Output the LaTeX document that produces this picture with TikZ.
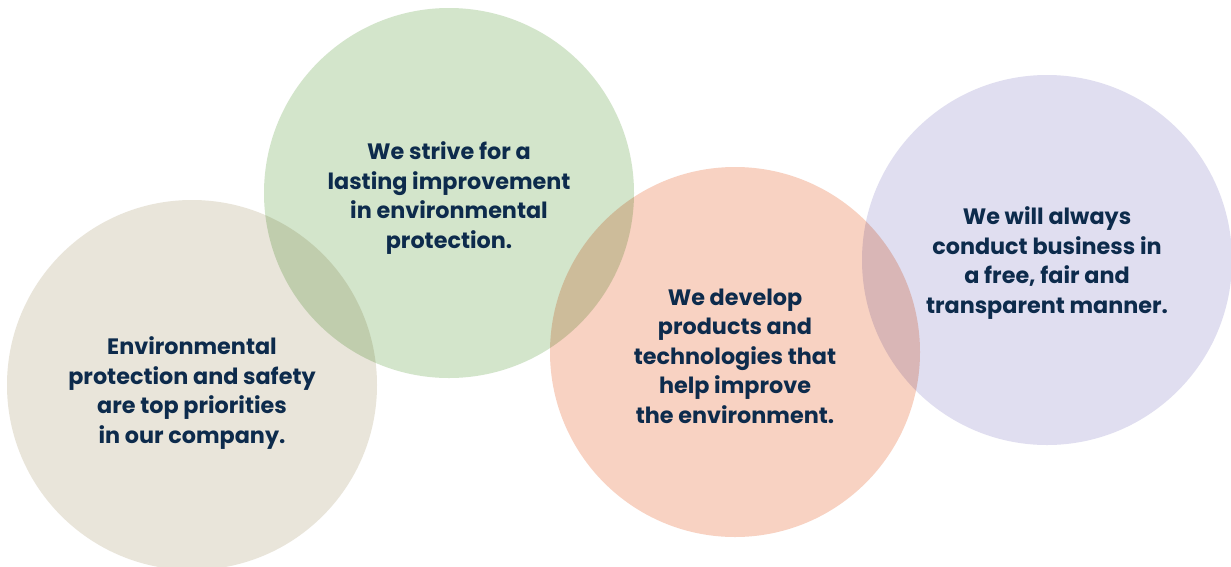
\documentclass[tikz,border=0pt]{standalone}
\usepackage{fontspec}
\setmainfont{Poppins}
\definecolor{cbeige}{HTML}{E9E5DA}
\definecolor{cgreen}{HTML}{D3E5CB}
\definecolor{csalmon}{HTML}{F8D2C2}
\definecolor{clav}{HTML}{E0DEF0}
\definecolor{ctext}{HTML}{0D2B4C}
\begin{document}
\begin{tikzpicture}[x=1pt,y=-1pt,
  blob/.style={circle, draw=none, fill=#1, minimum size=370pt, inner sep=0pt, blend mode=multiply},
  label/.style={align=center, text=ctext, inner sep=0pt,
    font=\fontsize{22.3}{29.5}\selectfont\bfseries}]
\useasboundingbox[fill=white] (0,0) rectangle (1231,566);
\begin{scope}
\clip (0,0) rectangle (1231,566);
\node[blob=cbeige] (c1) at (192,385) {};
\node[blob=cgreen] (c2) at (449,193) {};
\node[blob=csalmon] (c3) at (735,352) {};
\node[blob=clav] (c4) at (1047,260) {};
\end{scope}
\node[label] (t1) at (192,393) {Environmental\\protection and safety\\are top priorities\\in our company.};
\node[label] (t2) at (449,198) {We strive for a\\lasting improvement\\in environmental\\protection.};
\node[label] (t3) at (735,356) {We develop\\products and\\technologies that\\help improve\\the environment.};
\node[label] (t4) at (1047,263) {We will always\\conduct business in\\a free, fair and\\transparent manner.};
\end{tikzpicture}
\end{document}
